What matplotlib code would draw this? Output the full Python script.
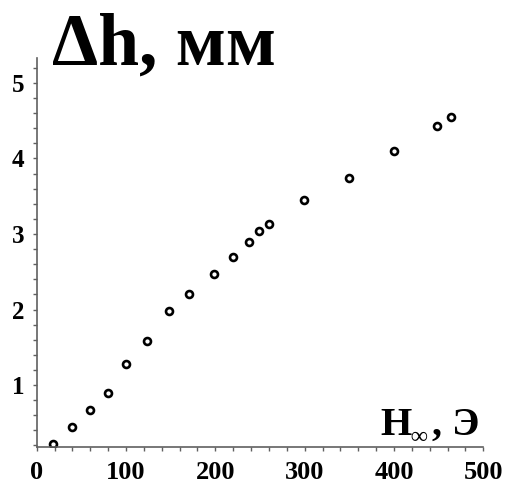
import matplotlib
matplotlib.use('Agg')
import matplotlib.pyplot as plt
from matplotlib.ticker import MultipleLocator

# data
H_inf = [18, 40, 60, 80, 100, 123, 148, 171, 199, 220, 238, 249, 260, 299, 350, 400, 448, 464]
dh_mm = [0.22, 0.44, 0.67, 0.90, 1.28, 1.58, 1.98, 2.20, 2.47, 2.70, 2.90, 3.04, 3.13, 3.45, 3.74, 4.10, 4.43, 4.55]

x_ticks = [0, 100, 200, 300, 400, 500]
y_ticks = [1, 2, 3, 4, 5]

plt.rcParams['font.family'] = ['Liberation Serif', 'DejaVu Serif']

W, Hpx = 509, 483
fig = plt.figure(figsize=(W / 100, Hpx / 100), dpi=100)
ax = fig.add_axes([0.0721, 0.0752, 0.8774, 0.8048])

ax.plot(H_inf, dh_mm, 'o', ms=5, mfc='white', mec='black', mew=1.9)

ax.set_xlim(0, 500)
ax.set_ylim(0.184, 5.33)
ax.set_xticks(x_ticks)
ax.set_yticks(y_ticks)
ax.xaxis.set_minor_locator(MultipleLocator(20))
ax.yaxis.set_minor_locator(MultipleLocator(0.2))

for s in ['top', 'right']:
    ax.spines[s].set_visible(False)
for s in ['left', 'bottom']:
    ax.spines[s].set_color('#606060')
    ax.spines[s].set_linewidth(1.2)

ax.tick_params(which='both', direction='out', length=3, width=1, color='#606060')
ax.tick_params(axis='x', which='major', pad=7, labelsize=19)
ax.tick_params(axis='y', which='major', pad=6, labelsize=18)
for lab in ax.get_xticklabels() + ax.get_yticklabels():
    lab.set_fontweight('bold')


def px(x, y):
    return x / W, 1 - y / Hpx


fig.text(*px(52, 65), 'Δh, мм', fontsize=53, fontweight='bold', ha='left', va='baseline')
# x axis label: H with small infinity subscript, then ", Э"
fig.text(*px(380, 435), 'H', fontsize=29, fontweight='bold', ha='left', va='baseline')
fig.text(*px(410, 443), '∞', fontsize=17, fontweight='bold', ha='left', va='baseline')
fig.text(*px(479, 435), ', Э', fontsize=29, fontweight='bold', ha='right', va='baseline')

fig.savefig('out.png', dpi=100)
